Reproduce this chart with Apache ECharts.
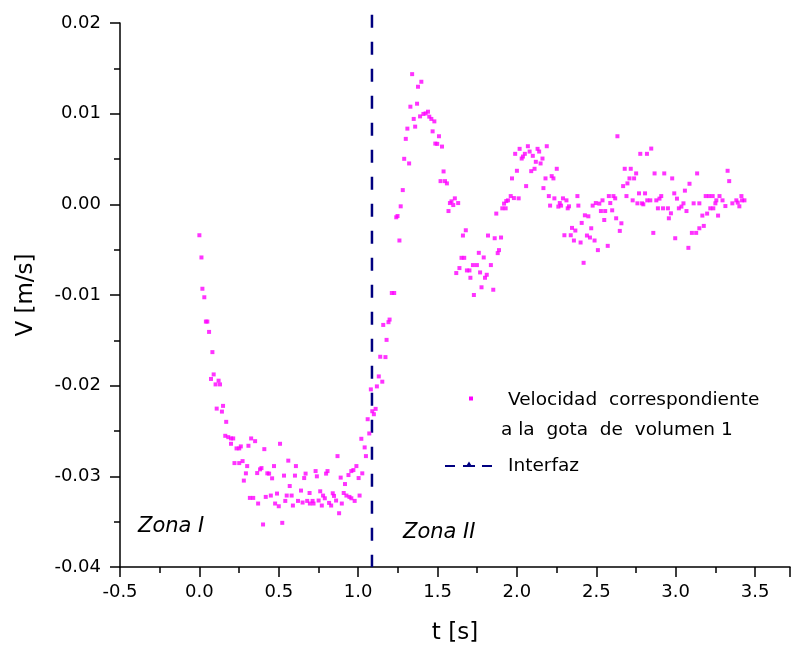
<!DOCTYPE html>
<html><head><meta charset="utf-8">
<script src="https://cdn.jsdelivr.net/npm/echarts@6/dist/echarts.min.js"></script>
<style>html,body{margin:0;padding:0;background:#fff}#c{width:793px;height:653px}</style>
</head><body><div id="c"></div>
<script>
// ---- data: [t (s), V (m/s)] ----
const zonaI = [
[0.000,-0.00341],[0.013,-0.00586],[0.019,-0.00931],[0.031,-0.01025],[0.041,-0.01293],[0.050,-0.01293],
[0.061,-0.01407],[0.082,-0.01630],[0.090,-0.01876],[0.073,-0.01926],[0.121,-0.01945],[0.102,-0.01986],
[0.130,-0.01986],[0.109,-0.02253],[0.149,-0.02223],[0.142,-0.02286],[0.169,-0.02399],[0.163,-0.02553],
[0.182,-0.02568],[0.199,-0.02582],[0.213,-0.02582],[0.199,-0.02641],[0.234,-0.02692],[0.251,-0.02692],
[0.261,-0.02670],[0.309,-0.02663],[0.326,-0.02582],[0.351,-0.02612],[0.409,-0.02700],[0.508,-0.02641],
[0.221,-0.02854],[0.251,-0.02854],[0.272,-0.02832],[0.301,-0.02887],[0.293,-0.02967],[0.280,-0.03047],
[0.364,-0.02964],[0.382,-0.02923],[0.391,-0.02909],[0.428,-0.02967],[0.439,-0.02970],[0.470,-0.02887],
[0.458,-0.03022],[0.560,-0.02827],[0.533,-0.02992],[0.608,-0.02887],[0.602,-0.02992],[0.669,-0.02970],
[0.660,-0.03019],[0.569,-0.03107],[0.732,-0.02942],[0.740,-0.03000],[0.807,-0.02942],[0.798,-0.02970],
[0.870,-0.02777],[0.890,-0.03014],[0.917,-0.03085],[0.939,-0.02986],[0.957,-0.02942],[0.970,-0.02931],
[0.989,-0.02887],[1.003,-0.03019],[1.026,-0.02967],[1.020,-0.02586],[1.049,-0.02777],
[0.318,-0.03238],[0.339,-0.03238],[0.370,-0.03300],[0.418,-0.03227],[0.450,-0.03212],[0.489,-0.03190],
[0.477,-0.03300],[0.500,-0.03330],[0.550,-0.03212],[0.581,-0.03212],[0.541,-0.03271],[0.589,-0.03322],
[0.621,-0.03271],[0.640,-0.03157],[0.650,-0.03289],[0.679,-0.03271],[0.696,-0.03300],[0.713,-0.03271],
[0.694,-0.03184],[0.719,-0.03300],[0.751,-0.03267],[0.761,-0.03165],[0.771,-0.03322],[0.779,-0.03212],
[0.790,-0.03242],[0.817,-0.03293],[0.830,-0.03322],[0.840,-0.03187],[0.848,-0.03216],[0.861,-0.03267],
[0.880,-0.03407],[0.897,-0.03300],[0.909,-0.03184],[0.926,-0.03212],[0.945,-0.03227],[0.957,-0.03242],
[0.978,-0.03271],[1.009,-0.03212],[0.401,-0.03531],[0.522,-0.03513]
];
const subida = [
[1.212,-0.00978],[1.227,-0.00978],[1.198,-0.01271],[1.191,-0.01300],[1.158,-0.01330],[1.179,-0.01495],
[1.139,-0.01681],[1.172,-0.01685],[1.130,-0.01898],[1.152,-0.01956],[1.118,-0.02008],[1.080,-0.02041],
[1.110,-0.02256],[1.089,-0.02282],[1.099,-0.02315],[1.060,-0.02370],[1.070,-0.02527],[1.041,-0.02681]
];
const pico = [
[1.340,0.01436],[1.398,0.01352],[1.377,0.01297],[1.371,0.01110],[1.329,0.01077],[1.390,0.00970],
[1.411,0.00997],[1.425,0.01003],[1.440,0.01022],[1.448,0.00967],[1.461,0.00942],[1.480,0.00915],
[1.350,0.00942],[1.359,0.00857],[1.310,0.00835],[1.469,0.00805],[1.509,0.00751],[1.300,0.00722],
[1.486,0.00670],[1.498,0.00667],[1.528,0.00637],[1.290,0.00502],[1.321,0.00451],[1.538,0.00363],
[1.519,0.00256],[1.547,0.00256],[1.559,0.00231],[1.281,0.00157],[1.609,0.00066],[1.588,0.00033],
[1.578,0.00014],[1.599,-0.00008],[1.630,0.00014],[1.268,-0.00022],[1.569,-0.00074],[1.248,-0.00129],
[1.240,-0.00143],[1.870,-0.00102],[1.678,-0.00286],[1.660,-0.00344],[1.818,-0.00344],[1.860,-0.00374],
[1.260,-0.00399]
];
const oscilacion1 = [
[1.900,-0.00366],[1.760,-0.00535],[1.791,-0.00586],[1.887,-0.00505],[1.879,-0.00538],[1.651,-0.00590],
[1.668,-0.00590],[1.638,-0.00703],[1.618,-0.00758],[1.723,-0.00670],[1.748,-0.00670],[1.836,-0.00670],
[1.685,-0.00729],[1.701,-0.00729],[1.768,-0.00751],[1.810,-0.00777],[1.799,-0.00810],[1.707,-0.00810],
[1.777,-0.00915],[1.851,-0.00942],[1.729,-0.01000],[2.017,0.00612],[1.989,0.00557],[2.069,0.00641],
[2.080,0.00582],[2.050,0.00557],[2.038,0.00527],[2.030,0.00505],[2.100,0.00535],[2.130,0.00612],
[2.140,0.00582],[2.188,0.00641],[2.161,0.00505],[2.119,0.00469],[2.149,0.00451],[2.111,0.00392],
[2.090,0.00366],[2.000,0.00370],[2.251,0.00392],[1.969,0.00286],[2.180,0.00286],[2.219,0.00311],
[2.230,0.00286],[2.058,0.00201],[2.167,0.00179],[1.961,0.00091],[1.981,0.00069],[2.011,0.00066],
[1.944,0.00044],[1.933,0.00036],[1.919,0.00008],[1.908,-0.00044],[1.929,-0.00044],[2.201,0.00091],
[2.236,0.00066],[2.209,-0.00014],[2.270,0.00014],[2.278,-0.00014],[2.261,-0.00025],[2.290,0.00066],
[2.312,0.00044],[2.328,-0.00022],[2.320,-0.00044],[2.381,0.00091],[2.387,-0.00014],[2.477,-0.00014],
[2.497,0.00014],[2.519,0.00008],[2.539,0.00044],[2.579,0.00091],[2.608,0.00091],[2.619,0.00066],
[2.588,0.00014],[2.529,-0.00074],[2.556,-0.00074],[2.600,-0.00066],[2.550,-0.00173],[2.625,-0.00154],
[2.428,-0.00121],[2.450,-0.00132],[2.408,-0.00205],[2.347,-0.00260],[2.368,-0.00289],[2.468,-0.00264],
[2.299,-0.00341],[2.339,-0.00341],[2.359,-0.00399],[2.401,-0.00421],[2.441,-0.00344],[2.460,-0.00366],
[2.489,-0.00399],[2.572,-0.00458],[2.510,-0.00505],[2.420,-0.00645],[2.633,0.00751]
];
const oscilacion2 = [
[2.846,0.00615],[2.777,0.00557],[2.819,0.00557],[2.679,0.00392],[2.717,0.00392],[2.751,0.00341],
[2.709,0.00286],[2.738,0.00286],[2.696,0.00231],[2.669,0.00201],[2.867,0.00341],[2.928,0.00341],
[2.978,0.00286],[3.135,0.00341],[3.327,0.00370],[3.337,0.00256],[3.087,0.00227],[3.058,0.00151],
[2.690,0.00091],[2.769,0.00121],[2.807,0.00121],[2.729,0.00044],[2.759,0.00011],[2.788,0.00011],
[2.796,0.00000],[2.821,0.00044],[2.840,0.00044],[2.878,0.00044],[2.898,0.00063],[2.909,0.00091],
[2.991,0.00121],[3.008,0.00063],[2.888,-0.00044],[2.920,-0.00044],[2.951,-0.00044],[2.970,-0.00099],
[2.957,-0.00154],[3.020,-0.00044],[3.036,-0.00025],[3.049,0.00011],[3.068,-0.00074],[3.113,0.00011],
[3.149,0.00011],[3.189,0.00091],[3.210,0.00091],[3.233,0.00091],[3.276,0.00091],[3.256,0.00044],
[3.250,0.00011],[3.295,0.00044],[3.218,-0.00044],[3.237,-0.00044],[3.198,-0.00102],[3.168,-0.00124],
[3.267,-0.00124],[3.313,-0.00019],[3.357,0.00011],[3.382,0.00044],[3.391,0.00019],[3.401,-0.00022],
[3.414,0.00091],[3.418,0.00044],[3.433,0.00044],[2.658,-0.00209],[2.648,-0.00293],[2.859,-0.00315],
[2.997,-0.00374],[3.102,-0.00315],[3.129,-0.00315],[3.149,-0.00264],[3.177,-0.00238],[3.080,-0.00480]
];
const interfazT = 1.087;
const interfazV = [0.0209, -0.04];
const xRange = [-0.5, 3.72];
const yRange = [-0.04, 0.02];
const xLabel = 't [s]';
const yLabel = 'V [m/s]';
const legendLine1 = 'Velocidad  correspondiente';
const legendLine2 = 'a la  gota  de  volumen 1';
const legendInterfaz = 'Interfaz';
const zonaLabels = ['Zona I', 'Zona II'];

const FONT = 'DejaVu Sans';
const MAG = '#ff00ff';
const NAVY = '#000080';
const chart = echarts.init(document.getElementById('c'), null, {renderer: 'canvas'});
const allPoints = [].concat(zonaI, subida, pico, oscilacion1, oscilacion2);

const axisCommon = {
  type: 'value',
  axisLine: {onZero: false, lineStyle: {color: '#000', width: 1.5}},
  axisTick: {inside: false, length: 10, lineStyle: {color: '#000', width: 1.5}},
  minorTick: {show: true, splitNumber: 2, length: 6, lineStyle: {color: '#000', width: 1.5}},
  splitLine: {show: false},
  minorSplitLine: {show: false},
  nameLocation: 'middle',
  nameTextStyle: {fontFamily: FONT, fontSize: 23, color: '#000'}
};

chart.setOption({
  animation: false,
  backgroundColor: '#fff',
  grid: {left: 120, top: 23, right: 0, bottom: 86},
  xAxis: Object.assign({}, axisCommon, {
    min: xRange[0], max: xRange[1], interval: 0.5,
    name: xLabel, nameGap: 55,
    axisLabel: {margin: 16, fontFamily: FONT, fontSize: 18, color: '#000',
      formatter: function (v) { const r = Math.round(v * 2); return Math.abs(v * 2 - r) < 1e-6 ? (r / 2).toFixed(1) : ''; }}
  }),
  yAxis: Object.assign({}, axisCommon, {
    min: yRange[0], max: yRange[1], interval: 0.01,
    name: yLabel, nameGap: 82,
    axisLabel: {margin: 19, fontFamily: FONT, fontSize: 18, color: '#000',
      formatter: function (v) { return Math.abs(v) < 1e-9 ? '0.00' : v.toFixed(2); }}
  }),
  series: [
    {
      type: 'line', name: legendInterfaz,
      data: interfazV.map(function (v) { return [interfazT, v]; }),
      symbol: 'none', clip: false, silent: true, z: 1,
      lineStyle: {color: NAVY, width: 2.5, type: [13, 14]}
    },
    {
      type: 'scatter', name: 'Velocidad correspondiente a la gota de volumen 1',
      data: allPoints, symbol: 'rect', symbolSize: 4, z: 2,
      itemStyle: {color: MAG}
    }
  ],
  graphic: [
    {type: 'rect', shape: {x: 469, y: 396.5, width: 4, height: 4}, style: {fill: MAG}},
    {type: 'text', style: {x: 508, y: 400, text: legendLine1, font: '18.5px "DejaVu Sans"', fill: '#000', verticalAlign: 'middle'}},
    {type: 'text', style: {x: 501, y: 430, text: legendLine2, font: '18.5px "DejaVu Sans"', fill: '#000', verticalAlign: 'middle'}},
    {type: 'line', shape: {x1: 445, y1: 466, x2: 455, y2: 466}, style: {stroke: NAVY, lineWidth: 2}},
    {type: 'line', shape: {x1: 463, y1: 466, x2: 475, y2: 466}, style: {stroke: NAVY, lineWidth: 2}},
    {type: 'line', shape: {x1: 482, y1: 466, x2: 492, y2: 466}, style: {stroke: NAVY, lineWidth: 2}},
    {type: 'polygon', shape: {points: [[466.5, 465.5], [471.5, 465.5], [469, 461.5]]}, style: {fill: NAVY}},
    {type: 'text', style: {x: 508, y: 466, text: legendInterfaz, font: '18.5px "DejaVu Sans"', fill: '#000', verticalAlign: 'middle'}},
    {type: 'text', style: {x: 138, y: 527, text: zonaLabels[0], font: 'italic 21px "DejaVu Sans"', fill: '#000', verticalAlign: 'middle'}},
    {type: 'text', style: {x: 403, y: 533, text: zonaLabels[1], font: 'italic 21px "DejaVu Sans"', fill: '#000', verticalAlign: 'middle'}}
  ]
});
</script></body></html>
